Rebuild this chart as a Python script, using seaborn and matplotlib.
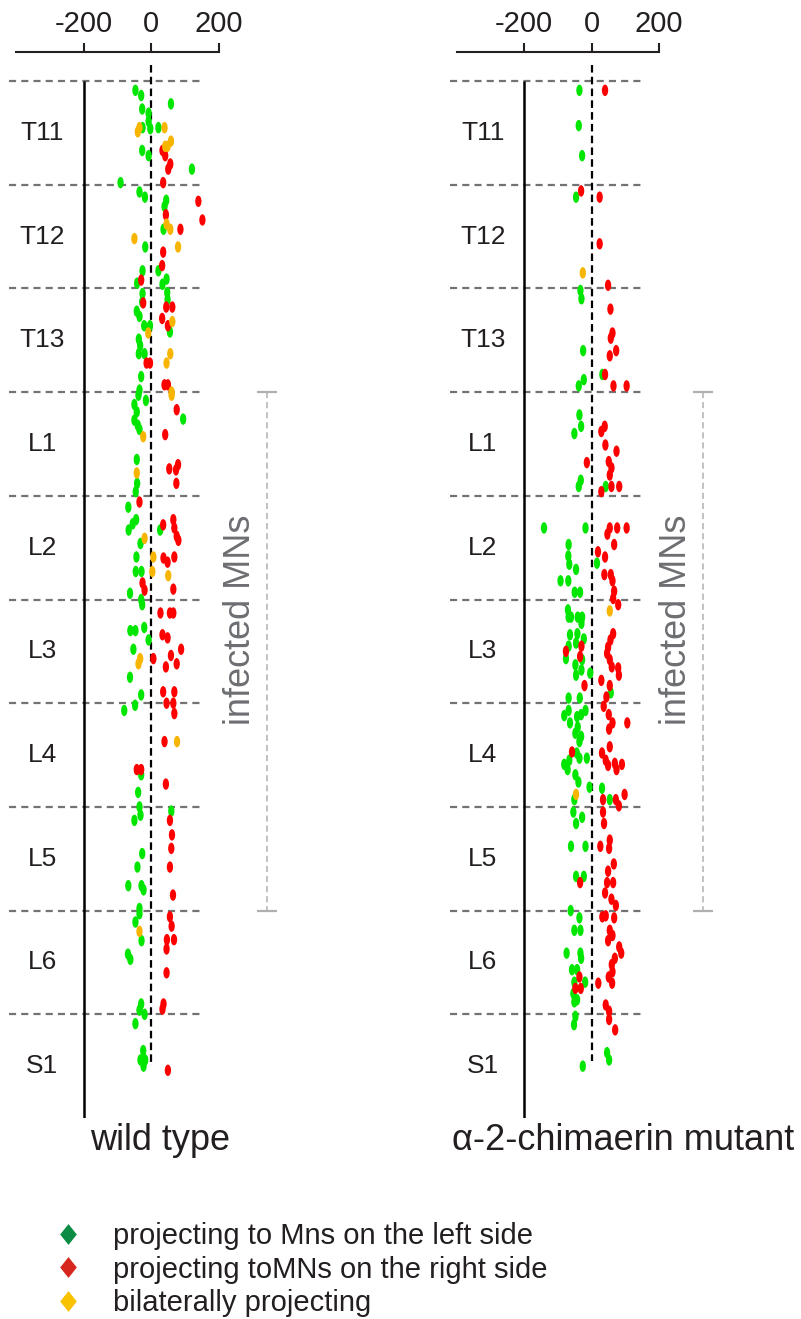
import matplotlib
matplotlib.use("Agg")
import matplotlib.pyplot as plt
import seaborn as sns
import pandas as pd
from matplotlib.path import Path
from matplotlib.transforms import Affine2D
from matplotlib.lines import Line2D

# ---------------- data ----------------
segments = ["T11", "T12", "T13", "L1", "L2", "L3", "L4", "L5", "L6", "S1"]
x_ticks = [-200, 0, 200]
categories = ["left", "right", "bilateral"]
legend_labels = ["projecting to Mns on the left side",
                 "projecting toMNs on the right side",
                 "bilaterally projecting"]
panel_titles = ["wild type", "\u03b1-2-chimaerin mutant"]
bracket_label = "infected MNs"
infected_from, infected_to = 3, 8   # from top of L1 to bottom of L5

# wild type (x = medio-lateral position, y = position along cord in segments)
wt_left_x = [-47, -30, 58, -27, -8, -8, -26, -3, 21, -27,
             -8, 120, -91, -35, -19, 44, 39, 36, -18, -26,
             21, 45, -42, 33, 47, -26, -27, 48, -43, -35,
             -21, -4, 55, -37, -33, -37, -20, -30, -35, -38,
             -16, -50, -43, -50, -40, -35, 94, -43, -42, -46,
             -68, -45, -55, -67, 26, -32, -44, -46, -29, -63,
             -30, -27, -62, -47, -21, -8, -53, -63, -30, -48,
             -80, -30, -39, -35, -32, -50, 59, -27, -41, -68,
             -29, -23, -35, -35, -47, -29, -69, -62, -30, -35,
             -20, -47, -24, -32, -18, -23]
wt_left_y = [0.09, 0.14, 0.22, 0.27, 0.31, 0.39, 0.45, 0.46, 0.45, 0.67,
             0.72, 0.85, 0.98, 1.07, 1.12, 1.15, 1.21, 1.43, 1.60, 1.83,
             1.83, 1.91, 1.95, 1.96, 2.04, 2.05, 2.13, 2.11, 2.22, 2.27,
             2.36, 2.36, 2.42, 2.49, 2.55, 2.63, 2.63, 2.85, 2.98, 3.03,
             3.08, 3.12, 3.19, 3.27, 3.32, 3.36, 3.26, 3.65, 3.88, 3.96,
             4.11, 4.23, 4.27, 4.33, 4.33, 4.46, 4.59, 4.73, 4.73, 4.94,
             5.00, 5.05, 5.30, 5.30, 5.27, 5.39, 5.48, 5.75, 5.92, 6.02,
             6.07, 6.69, 6.86, 7.00, 7.08, 7.13, 7.04, 7.45, 7.58, 7.76,
             7.76, 7.80, 7.98, 8.03, 8.11, 8.29, 8.42, 8.47, 8.90, 8.96,
             9.00, 9.09, 9.35, 9.44, 9.44, 9.50]
wt_right_x = [33, 41, 56, 50, 35, 139, 151, 43, 86, 35,
              32, -30, -24, 44, 62, 32, 49, -14, -4, 39,
              49, 75, 41, 53, 79, 73, 74, -35, 35, 65,
              68, 75, 80, 36, 48, 68, -26, -20, 65, 27,
              55, 65, 33, 48, 88, 6, 58, 75, 43, 35,
              68, 45, 65, 68, 39, -43, -30, 43, 55, 61,
              59, 55, 64, 55, 60, 46, 67, 45, 45, 36,
              33, 49]
wt_right_y = [0.67, 0.72, 0.80, 0.85, 0.98, 1.16, 1.34, 1.29, 1.43, 1.65,
              1.78, 1.92, 2.14, 2.18, 2.18, 2.29, 2.36, 2.72, 2.72, 2.93,
              2.93, 3.17, 3.41, 3.74, 3.70, 3.75, 3.88, 4.06, 4.28, 4.23,
              4.31, 4.39, 4.43, 4.60, 4.64, 4.59, 4.84, 4.91, 4.90, 5.13,
              5.13, 5.13, 5.34, 5.37, 5.48, 5.57, 5.54, 5.62, 5.65, 5.89,
              5.89, 6.00, 6.00, 6.10, 6.37, 6.64, 6.64, 6.78, 7.13, 7.27,
              7.40, 7.58, 7.85, 8.06, 8.15, 8.28, 8.28, 8.37, 8.60, 8.90,
              8.95, 9.54]
wt_bi_x = [-35, -40, 39, 58, 48, 41, 45, 56, -50, 79, 62, -9, 56,
           45, 60, 60, -24, -43, -20, 6, 3, 50, -33, -38, 76, -35]
wt_bi_y = [0.45, 0.49, 0.45, 0.58, 0.63, 0.63, 1.38, 1.43, 1.52, 1.60, 2.32, 2.43, 2.63,
           2.72, 3.00, 3.03, 3.43, 3.78, 4.41, 4.59, 4.73, 4.77, 5.57, 5.62, 6.37, 8.20]

# alpha-2-chimaerin mutant
mu_left_x = [-36, -38, -28, -46, -33, -30, -25, 32, -23, -38,
             -36, -31, -51, -32, -38, 42, -141, -18, -68, -69,
             -66, -46, -92, -69, -50, -34, 16, -70, -68, -61,
             -41, -28, -30, -64, -42, -46, -23, -68, -76, -48,
             -28, -30, -46, -4, -68, -35, 57, -68, -81, -64,
             -43, -31, -18, -41, -48, -31, -36, -44, -36, -14,
             -66, -81, -71, -48, -39, -6, -51, -54, -46, -28,
             31, 54, -61, -18, -46, -23, -62, -36, -51, -33,
             -74, -33, -31, -58, -43, -51, -19, -54, -43, -51,
             -48, -52, 46, 52, -26]
mu_left_y = [0.09, 0.43, 0.72, 1.12, 2.02, 2.10, 2.60, 2.83, 2.88, 2.94,
             3.22, 3.33, 3.40, 3.85, 3.91, 3.91, 4.31, 4.31, 4.47, 4.58,
             4.66, 4.71, 4.82, 4.82, 4.93, 4.93, 4.65, 5.10, 5.17, 5.17,
             5.17, 5.17, 5.23, 5.34, 5.33, 5.42, 5.38, 5.45, 5.57, 5.63,
             5.58, 5.68, 5.73, 5.71, 5.95, 5.95, 5.90, 6.07, 6.12, 6.19,
             6.13, 6.11, 6.07, 6.23, 6.29, 6.32, 6.37, 6.48, 6.53, 6.53,
             6.55, 6.59, 6.64, 6.69, 6.76, 6.81, 6.93, 7.05, 7.16, 7.10,
             6.82, 6.93, 7.38, 7.38, 7.67, 7.67, 8.00, 8.07, 8.19, 8.19,
             8.41, 8.41, 8.46, 8.57, 8.57, 8.69, 8.69, 8.80, 8.86, 8.88,
             9.02, 9.10, 9.37, 9.44, 9.50]
mu_right_x = [40, -31, 24, 24, 49, 56, 62, 57, 73, 54,
              40, 65, 104, 39, 29, 41, 74, -14, 51, 59,
              54, 59, 82, 29, 54, 76, 104, 47, 67, 19,
              40, 38, 57, 62, 67, 64, 79, 64, 56, 49,
              46, 54, 60, 79, 81, -30, -76, -34, 29, 54,
              -21, 44, 36, 51, 62, 52, 106, 54, -58, 31,
              42, 49, 69, 74, 90, 34, 72, 81, 98, 34,
              37, 54, 26, 52, 66, 49, 46, 64, -34, 40,
              59, 72, 32, 42, 67, 54, 62, 49, 82, 88,
              69, 60, 62, 51, 61, 20, -36, -48, -32, 42,
              52, 52, 70]
mu_right_y = [0.09, 1.06, 1.12, 1.57, 1.97, 2.20, 2.43, 2.48, 2.60, 2.65,
              2.83, 2.94, 2.94, 3.33, 3.38, 3.51, 3.57, 3.68, 3.67, 3.73,
              3.80, 3.91, 3.91, 3.96, 4.31, 4.31, 4.31, 4.37, 4.47, 4.54,
              4.59, 4.76, 4.76, 4.82, 4.92, 4.99, 5.05, 5.33, 5.39, 5.46,
              5.52, 5.58, 5.65, 5.66, 5.73, 5.45, 5.50, 5.55, 5.78, 5.83,
              5.83, 5.94, 6.03, 6.11, 6.19, 6.25, 6.19, 6.42, 6.47, 6.48,
              6.55, 6.60, 6.58, 6.64, 6.59, 6.93, 6.93, 6.99, 6.88, 7.05,
              7.16, 7.32, 7.38, 7.40, 7.55, 7.62, 7.73, 7.73, 7.73, 7.83,
              7.89, 7.95, 8.06, 8.05, 8.07, 8.19, 8.24, 8.29, 8.35, 8.41,
              8.46, 8.52, 8.59, 8.64, 8.70, 8.70, 8.64, 8.75, 8.75, 8.91,
              8.97, 9.05, 9.15]
mu_bi_x = [-26, 54, -46]
mu_bi_y = [1.85, 5.11, 6.88]

# ---------------- style ----------------
sns.set_style("white")
plt.rcParams["font.family"] = ["Liberation Sans", "DejaVu Sans"]

point_palette = {"left": "#00e600", "right": "#ff0000", "bilateral": "#f7b500"}
legend_colors = ["#0b8c44", "#d7261e", "#f8c200"]


def make_df(lx, ly, rx, ry, bx, by):
    assert len(lx) == len(ly) and len(rx) == len(ry) and len(bx) == len(by)
    return pd.DataFrame({
        "x": list(lx) + list(rx) + list(bx),
        "y": list(ly) + list(ry) + list(by),
        "type": ["left"] * len(lx) + ["right"] * len(rx) + ["bilateral"] * len(bx),
    })


df_wt = make_df(wt_left_x, wt_left_y, wt_right_x, wt_right_y, wt_bi_x, wt_bi_y)
df_mu = make_df(mu_left_x, mu_left_y, mu_right_x, mu_right_y, mu_bi_x, mu_bi_y)

oval = Path.unit_circle().transformed(Affine2D().scale(0.55, 1.0))
diamond = Path([(0, 1), (0.8, 0), (0, -1), (-0.8, 0), (0, 1)],
               [Path.MOVETO, Path.LINETO, Path.LINETO, Path.LINETO, Path.CLOSEPOLY])

W, H = 801, 1319
fig = plt.figure(figsize=(W / 100, H / 100), dpi=100)

ax_top_px, ax_bot_px = 51.7, 1118
panels = [
    dict(df=df_wt, left=16, width=203, dash_end=9.5, bracket_x=342, text_x=265),
    dict(df=df_mu, left=456.7, width=202.3, dash_end=9.45, bracket_x=331, text_x=251),
]

for i, p in enumerate(panels):
    ax = fig.add_axes([p["left"] / W, 1 - ax_bot_px / H, p["width"] / W,
                       (ax_bot_px - ax_top_px) / H])
    ax.set_xlim(-400, 200)
    ax.set_ylim(len(segments), -(81 - ax_top_px) / 103.7)
    ax.patch.set_alpha(0)

    # segment grid lines
    ax.hlines(range(len(segments)), -420, 157, colors="#737373",
              linestyles=(0, (3.2, 2.3)), linewidth=1.6, clip_on=False, zorder=1)
    # midline and reference axis
    ax.vlines(0, -0.15, p["dash_end"], colors="black", linestyles=(0, (3.4, 1.9)),
              linewidth=1.6, zorder=2)
    ax.vlines(-200, 0, len(segments), colors="black", linewidth=1.8, zorder=2)

    sns.scatterplot(data=p["df"], x="x", y="y", hue="type", hue_order=categories,
                    palette=point_palette, marker=oval, s=68, linewidth=0,
                    legend=False, ax=ax, zorder=3, clip_on=False)

    for k, name in enumerate(segments):
        ax.text(-322, k + 0.5, name, ha="center", va="center", fontsize=19,
                color="#231f20")

    # infected MNs bracket
    bx = p["bracket_x"]
    ax.vlines(bx, infected_from, infected_to, colors="#b0b0b0",
              linestyles=(0, (4.0, 2.6)), linewidth=1.1, clip_on=False)
    ax.hlines([infected_from, infected_to], bx - 30, bx + 30, colors="#b0b0b0",
              linewidth=1.6, clip_on=False)
    ax.text(p["text_x"], 5.2, bracket_label, rotation=90, ha="center", va="center",
            fontsize=26, color="#6d6e71", clip_on=False)

    # axis styling: only the top axis
    for side in ["left", "right", "bottom"]:
        ax.spines[side].set_visible(False)
    ax.spines["top"].set_linewidth(1.5)
    ax.spines["top"].set_color("#231f20")
    ax.xaxis.tick_top()
    ax.set_xticks(x_ticks)
    ax.set_xticklabels([str(t) for t in x_ticks])
    ax.tick_params(axis="x", top=True, bottom=False, direction="out", length=6.5,
                   width=1.5, color="#231f20", labelsize=21, pad=3.5,
                   labelcolor="#231f20")
    ax.set_yticks([])
    ax.set_xlabel("")
    ax.set_ylabel("")

    fig.text((90 if i == 0 else 452) / W, 1 - 1140 / H, panel_titles[i],
             ha="left", va="center", fontsize=26, color="#231f20")

handles = [Line2D([0], [0], marker=diamond, linestyle="none", markersize=15,
                  markerfacecolor=c, markeredgewidth=0) for c in legend_colors]
fig.legend(handles, legend_labels, loc="upper left",
           bbox_to_anchor=(55 / W, 1 - 1222 / H), frameon=False, fontsize=21,
           handlelength=0.9, handletextpad=1.1, labelspacing=0.19,
           borderpad=0, borderaxespad=0, labelcolor="#231f20")

fig.savefig("out.png", dpi=100)
